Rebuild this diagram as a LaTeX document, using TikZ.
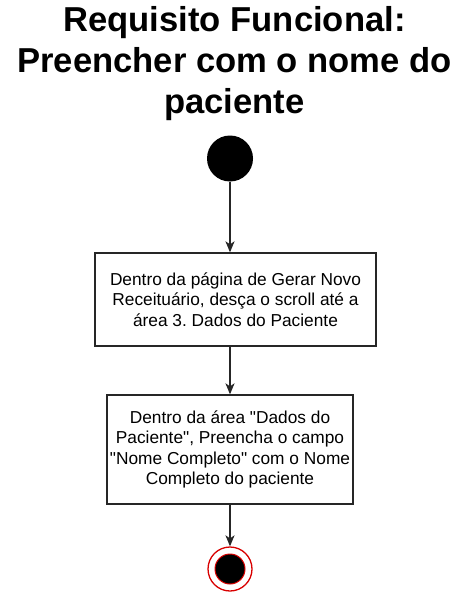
\documentclass[tikz,border=0pt]{standalone}
\usepackage{fontspec}
\setmainfont{Liberation Sans}
\usetikzlibrary{arrows.meta}
\frenchspacing
\tikzset{
  flow/.style={draw=black!85, line width=1.3pt, -{Stealth[length=11pt,width=9pt,inset=3pt]}},
  actbox/.style={draw=black!85, line width=1.3pt, fill=white, align=center, inner sep=0pt,
    font=\fontsize{17.3pt}{20.3pt}\selectfont},
  titletext/.style={align=center, inner sep=0pt, font=\fontsize{34.6pt}{41pt}\selectfont\bfseries}
}
\begin{document}
\begin{tikzpicture}[x=1pt,y=-1pt]
\useasboundingbox[fill=white] (0,0) rectangle (469,610);
\node[titletext, anchor=base] (title) at (234.5,113.7) {Requisito Funcional:\\Preencher com o nome do\\paciente};
\node[circle, fill=black, minimum size=46pt, inner sep=0pt] (start) at (230,158.5) {};
\node[actbox, minimum width=281pt, minimum height=93pt] (b1) at (235.5,299.5)
  {Dentro da página de Gerar Novo\\Receituário, desça o scroll até a\\área 3. Dados do Paciente};
\node[actbox, minimum width=246pt, minimum height=109pt] (b2) at (230,449.5)
  {Dentro da área \textquotedbl Dados do\\Paciente\textquotedbl, Preencha o campo\\\textquotedbl Nome Completo\textquotedbl{} com o Nome\\Completo do paciente};
\node[circle, draw=red!85!black, line width=1.3pt, fill=white, minimum size=44pt, inner sep=0pt] (endo) at (230,569) {};
\node[circle, draw=red!85!black, line width=1pt, fill=black, minimum size=30pt, inner sep=0pt] (endi) at (230,569) {};
\draw[flow] (start) -- (start |- b1.north);
\draw[flow] (start |- b1.south) -- (b2);
\draw[flow] (b2) -- (endo);
\end{tikzpicture}
\end{document}
